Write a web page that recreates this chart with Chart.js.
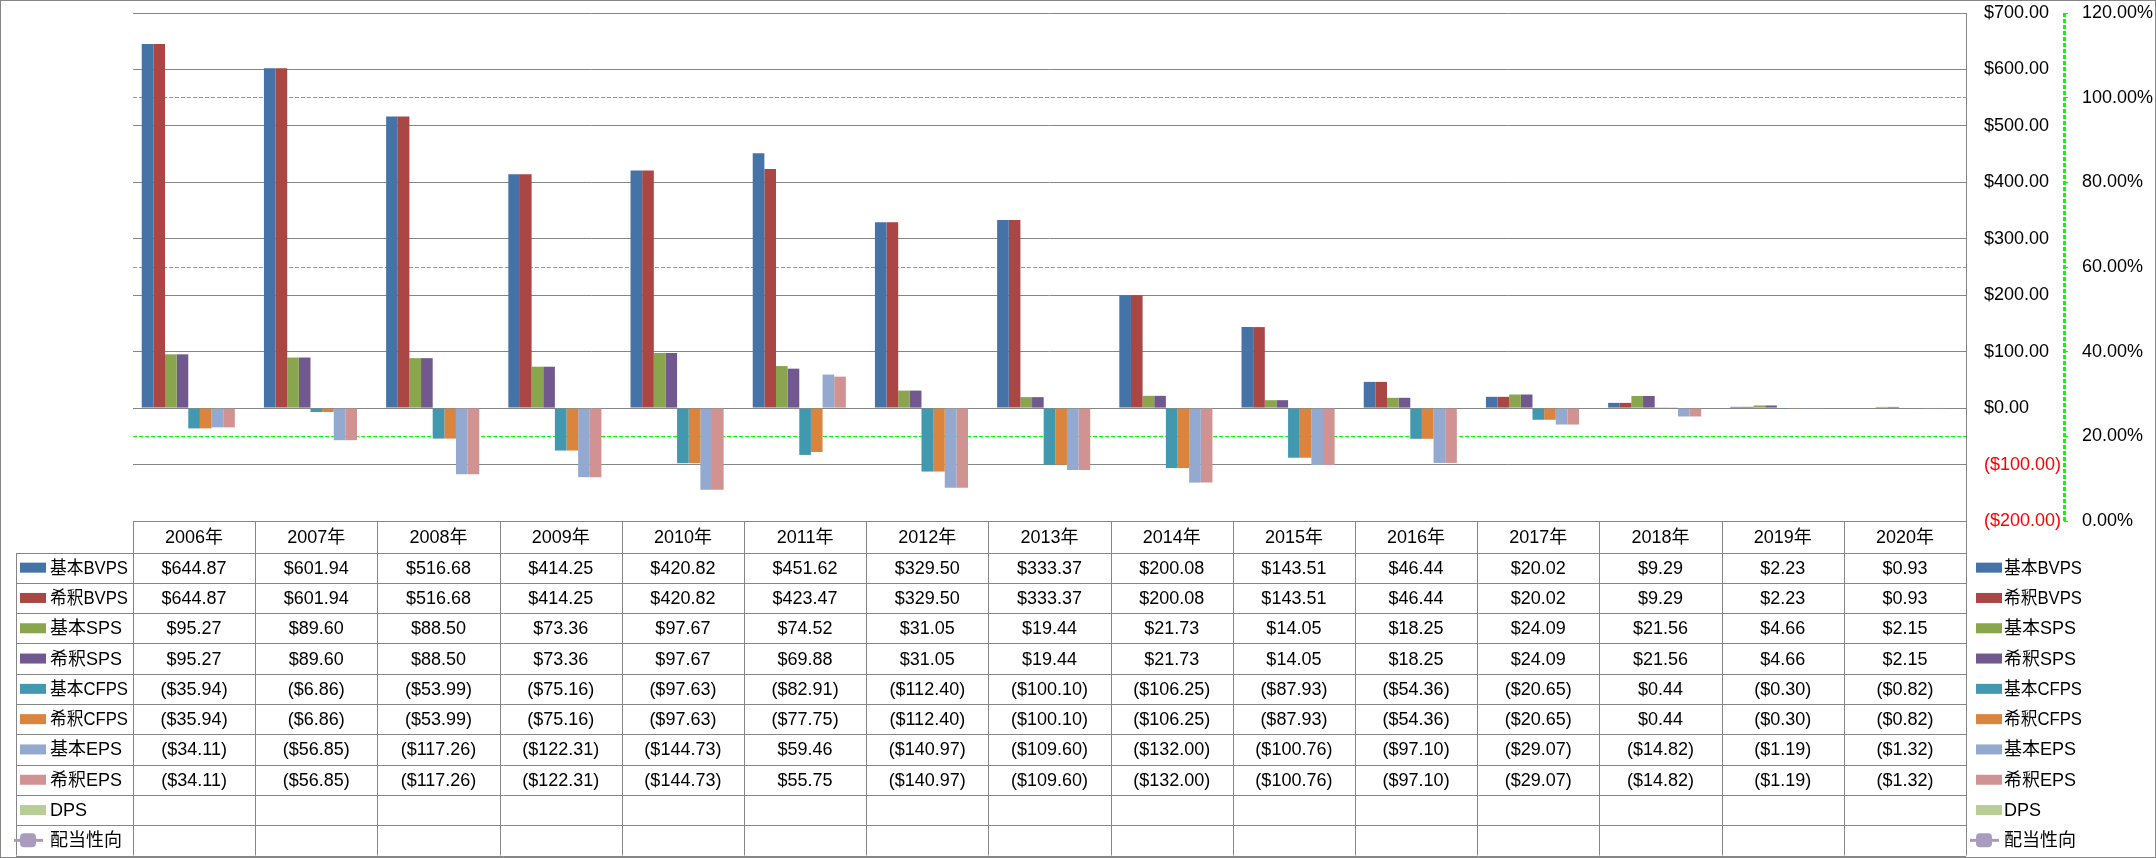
<!DOCTYPE html>
<html>
<head>
<meta charset="utf-8">
<script src="https://cdn.jsdelivr.net/npm/chart.js@4.4.0/dist/chart.umd.min.js"></script>
<style>
  body { margin: 0; background: #fff; }
</style>
</head>
<body>
<canvas id="chart" width="2156" height="858"></canvas>
<script>
const years = ["2006年", "2007年", "2008年", "2009年", "2010年", "2011年", "2012年", "2013年", "2014年", "2015年", "2016年", "2017年", "2018年", "2019年", "2020年"];

const basicBVPS = [644.87, 601.94, 516.68, 414.25, 420.82, 451.62, 329.50, 333.37, 200.08, 143.51, 46.44, 20.02, 9.29, 2.23, 0.93];
const dilutedBVPS = [644.87, 601.94, 516.68, 414.25, 420.82, 423.47, 329.50, 333.37, 200.08, 143.51, 46.44, 20.02, 9.29, 2.23, 0.93];
const basicSPS = [95.27, 89.60, 88.50, 73.36, 97.67, 74.52, 31.05, 19.44, 21.73, 14.05, 18.25, 24.09, 21.56, 4.66, 2.15];
const dilutedSPS = [95.27, 89.60, 88.50, 73.36, 97.67, 69.88, 31.05, 19.44, 21.73, 14.05, 18.25, 24.09, 21.56, 4.66, 2.15];
const basicCFPS = [-35.94, -6.86, -53.99, -75.16, -97.63, -82.91, -112.40, -100.10, -106.25, -87.93, -54.36, -20.65, 0.44, -0.30, -0.82];
const dilutedCFPS = [-35.94, -6.86, -53.99, -75.16, -97.63, -77.75, -112.40, -100.10, -106.25, -87.93, -54.36, -20.65, 0.44, -0.30, -0.82];
const basicEPS = [-34.11, -56.85, -117.26, -122.31, -144.73, 59.46, -140.97, -109.60, -132.00, -100.76, -97.10, -29.07, -14.82, -1.19, -1.32];
const dilutedEPS = [-34.11, -56.85, -117.26, -122.31, -144.73, 55.75, -140.97, -109.60, -132.00, -100.76, -97.10, -29.07, -14.82, -1.19, -1.32];
const dps = [null, null, null, null, null, null, null, null, null, null, null, null, null, null, null];
const payoutRatio = [null, null, null, null, null, null, null, null, null, null, null, null, null, null, null];

// axis ranges
const moneyMin = -200, moneyMax = 700, moneyStep = 100;
const pctMin = 0, pctMax = 120, pctStep = 20;
const pctGreenLines = [20, 60, 100];

const FONT = '"Liberation Sans", "Noto Sans CJK JP", sans-serif';
const gridGray = "#868686";

function fmtMoney(v) {
    if (v === null || v === undefined) return "";
    const s = "$" + Math.abs(v).toFixed(2);
    return v < 0 ? "(" + s + ")" : s;
}

const seriesList = [
    { label: "基本BVPS", data: basicBVPS, color: "#4572A7" },
    { label: "希釈BVPS", data: dilutedBVPS, color: "#AA4643" },
    { label: "基本SPS", data: basicSPS, color: "#89A54E" },
    { label: "希釈SPS", data: dilutedSPS, color: "#71588F" },
    { label: "基本CFPS", data: basicCFPS, color: "#4198AF" },
    { label: "希釈CFPS", data: dilutedCFPS, color: "#DB843D" },
    { label: "基本EPS", data: basicEPS, color: "#93A9CF" },
    { label: "希釈EPS", data: dilutedEPS, color: "#D19392" },
    { label: "DPS", data: dps, color: "#B9CD96" }
];
const lineSeries = { label: "配当性向", data: payoutRatio, color: "#A99BBD" };

const datasets = seriesList.map(s => ({
    type: "bar",
    label: s.label,
    data: s.data,
    backgroundColor: s.color,
    borderWidth: 0,
    yAxisID: "y",
    barPercentage: 1,
    categoryPercentage: 9 / 10.5
}));
datasets.push({
    type: "line",
    label: lineSeries.label,
    data: lineSeries.data,
    borderColor: lineSeries.color,
    backgroundColor: lineSeries.color,
    yAxisID: "y1"
});

function drawLineMarker(ctx, x1, x2, cx, cy, color) {
    ctx.strokeStyle = color;
    ctx.lineWidth = 3;
    ctx.beginPath();
    ctx.moveTo(x1, cy);
    ctx.lineTo(x2, cy);
    ctx.stroke();
    ctx.fillStyle = color;
    ctx.beginPath();
    ctx.roundRect(cx - 8, cy - 7, 16, 14, 4);
    ctx.fill();
}

// data table under the plot + legend on the right
const tablePlugin = {
    id: "dataTable",
    afterDraw(chart) {
        const { ctx, chartArea } = chart;
        const xs = chart.scales.x;
        const left = chartArea.left, right = chartArea.right;
        const top = chartArea.bottom;
        const headH = 31.5, rowH = 30.3;
        const legendLeft = 16;
        const rows = seriesList.concat([lineSeries]);
        const bottom = top + headH + rowH * rows.length;
        const px = v => Math.round(v) + 0.5;

        ctx.save();
        // outer border
        ctx.strokeStyle = gridGray;
        ctx.lineWidth = 1;
        ctx.strokeRect(0.5, 0.5, chart.width - 1, chart.height - 1);

        // table lines
        ctx.beginPath();
        ctx.moveTo(left, px(top));
        ctx.lineTo(right, px(top));
        for (let r = 0; r <= rows.length; r++) {
            const y = px(top + headH + r * rowH);
            ctx.moveTo(legendLeft, y);
            ctx.lineTo(right, y);
        }
        const colW = (right - left) / years.length;
        for (let c = 0; c <= years.length; c++) {
            const x = px(left + c * colW);
            ctx.moveTo(x, top);
            ctx.lineTo(x, bottom);
        }
        ctx.moveTo(px(legendLeft), px(top + headH));
        ctx.lineTo(px(legendLeft), bottom);
        ctx.stroke();

        ctx.font = "18px " + FONT;
        ctx.fillStyle = "#000";
        ctx.textBaseline = "middle";
        ctx.textAlign = "center";
        years.forEach((yr, i) => {
            ctx.fillText(yr, xs.getPixelForValue(i), top + headH / 2 + 1);
        });

        rows.forEach((s, r) => {
            const cy = top + headH + r * rowH + rowH / 2;
            // values
            ctx.fillStyle = "#000";
            ctx.textAlign = "center";
            s.data.forEach((v, i) => {
                ctx.fillText(fmtMoney(v), xs.getPixelForValue(i), cy + 1);
            });
            // row label in table and right legend
            [[20, 50], [1976, 2004]].forEach(([sx, tx]) => {
                if (s === lineSeries) {
                    drawLineMarker(ctx, sx - 6, sx + 23, sx + 8, cy, s.color);
                } else {
                    ctx.fillStyle = s.color;
                    ctx.fillRect(sx, cy - 5, 26, 10);
                }
                ctx.fillStyle = "#000";
                ctx.textAlign = "left";
                ctx.fillText(s.label, tx, cy + 1, 78);
            });
        });

        // dashed green secondary axis line
        const y1 = chart.scales.y1;
        ctx.strokeStyle = "#00FF00";
        ctx.setLineDash([4, 2]);
        ctx.beginPath();
        ctx.moveTo(px(y1.left), y1.top);
        ctx.lineTo(px(y1.left), y1.bottom);
        ctx.stroke();
        ctx.restore();
    }
};

Chart.defaults.font.family = FONT;
Chart.defaults.font.size = 18;
Chart.defaults.color = "#000";

new Chart(document.getElementById("chart"), {
    data: { labels: years, datasets: datasets },
    options: {
        responsive: false,
        animation: false,
        events: [],
        layout: { padding: { left: 133, top: 13, right: 0, bottom: 337 } },
        plugins: {
            legend: { display: false },
            tooltip: { enabled: false }
        },
        scales: {
            x: { display: false, offset: true },
            y: {
                position: "right",
                min: moneyMin,
                max: moneyMax,
                afterFit: s => { s.width = 98; s.paddingTop = 0; s.paddingBottom = 0; },
                grid: { color: gridGray, drawTicks: false },
                border: { display: true, color: gridGray },
                ticks: {
                    stepSize: moneyStep,
                    padding: 18,
                    color: c => (c.tick && c.tick.value < 0 ? "#FF0000" : "#000000"),
                    callback: v => fmtMoney(v)
                }
            },
            y1: {
                position: "right",
                min: pctMin,
                max: pctMax,
                afterFit: s => { s.width = 92; s.paddingTop = 0; s.paddingBottom = 0; },
                grid: {
                    color: c => (c.tick && pctGreenLines.includes(c.tick.value) ? "#00FF00" : "rgba(0,0,0,0)"),
                    tickColor: "#00FF00",
                    tickLength: 4,
                    drawTicks: true
                },
                border: { display: false, dash: [4, 2] },
                ticks: {
                    stepSize: pctStep,
                    padding: 14,
                    callback: v => v.toFixed(2) + "%"
                }
            }
        }
    },
    plugins: [tablePlugin]
});
</script>
</body>
</html>
